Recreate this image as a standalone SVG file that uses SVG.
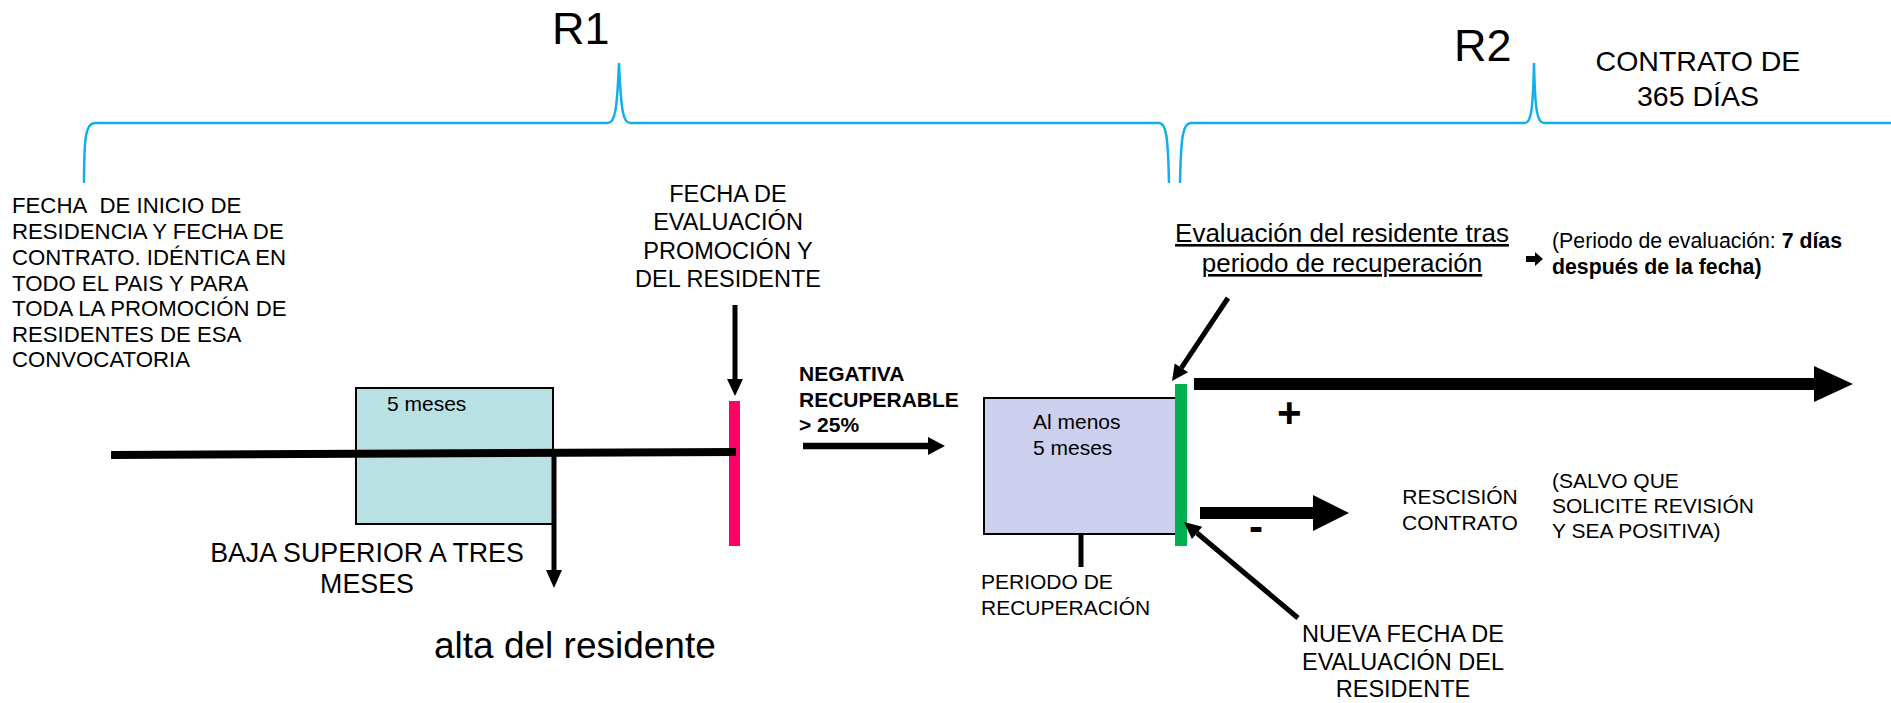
<svg xmlns="http://www.w3.org/2000/svg" width="1891" height="703" viewBox="0 0 1891 703">
<style>
text{font-family:"Liberation Sans",Arial,sans-serif;fill:#000}
.t21{font-size:21px}
.t22{font-size:22.2px}
.t23{font-size:23.5px}
.b{font-weight:bold}
.mid{text-anchor:middle}
.brace{fill:none;stroke:#14AEEB;stroke-width:2.5}
.ln{stroke:#000;fill:none}
.hd{fill:#000;stroke:none}
</style>
<rect width="1891" height="703" fill="#fff"/>
<g id="braces">
<path class="brace" d="M84,183 C84,135 86,123 95,123 L608,123 C615,123 617,110 619,63 C621,110 623,123 630,123 L1159,123 C1166,123 1168,135 1169,183"/>
<path class="brace" d="M1180,183 C1181,135 1183,123 1191,123 L1525,123 C1531,123 1533,110 1534,63 C1535,110 1537,123 1544,123 L1891,123"/>
</g>
<g id="labelR1"><text x="552" y="44" style="font-size:45px">R1</text></g>
<g id="labelR2"><text x="1454" y="61" style="font-size:45px">R2</text></g>
<g id="contrato365"><text class="mid" style="font-size:28.5px" x="1698" y="71">CONTRATO DE<tspan x="1698" y="106">365 DÍAS</tspan></text></g>
<g id="fechaInicio"><text class="t22" x="12" y="213">FECHA&#160; DE INICIO DE<tspan x="12" y="239">RESIDENCIA Y FECHA DE</tspan><tspan x="12" y="265">CONTRATO. IDÉNTICA EN</tspan><tspan x="12" y="291">TODO EL PAIS Y PARA</tspan><tspan x="12" y="316">TODA LA PROMOCIÓN DE</tspan><tspan x="12" y="342">RESIDENTES DE ESA</tspan><tspan x="12" y="367">CONVOCATORIA</tspan></text></g>
<g id="fechaEvaluacion"><text class="t23 mid" x="728" y="202">FECHA DE<tspan x="728" y="230">EVALUACIÓN</tspan><tspan x="728" y="259">PROMOCIÓN Y</tspan><tspan x="728" y="287">DEL RESIDENTE</tspan></text></g>
<g id="box5meses">
<rect x="356" y="388" width="197" height="136" fill="#B9E0E3" stroke="#000" stroke-width="2"/>
<text class="t21" x="387" y="411">5 meses</text>
</g>
<g id="bajaSuperior"><text class="mid" style="font-size:26.8px" x="367" y="562">BAJA SUPERIOR A TRES<tspan x="367" y="593">MESES</tspan></text></g>
<g id="altaResidente"><text style="font-size:37px" x="434" y="658">alta del residente</text></g>
<g id="barraEvaluacion"><rect x="729" y="401" width="11" height="145" fill="#FF0066"/></g>
<g id="negativa"><text class="t21 b" x="799" y="381">NEGATIVA<tspan x="799" y="407">RECUPERABLE</tspan><tspan x="799" y="432">&gt; 25%</tspan></text></g>
<g id="boxRecuperacion">
<rect x="984" y="398" width="192" height="136" fill="#CDCFEE" stroke="#000" stroke-width="2"/>
<text class="t21" x="1033" y="429">Al menos<tspan x="1033" y="455">5 meses</tspan></text>
</g>
<g id="periodoRecuperacion"><text class="t21" x="981" y="589">PERIODO DE<tspan x="981" y="615">RECUPERACIÓN</tspan></text></g>
<g id="barraNueva"><rect x="1175" y="384" width="12" height="162" fill="#00B050"/></g>
<g id="evaluacionTras"><text class="mid" style="font-size:26px;text-decoration:underline" x="1342" y="242">Evaluación del residente tras<tspan x="1342" y="272">periodo de recuperación</tspan></text></g>
<g id="periodoEvaluacion"><text style="font-size:21.3px" x="1552" y="248">(Periodo de evaluación: <tspan class="b">7 días</tspan><tspan class="b" x="1552" y="274">después de la fecha)</tspan></text></g>
<g id="plus"><text class="b" style="font-size:42px" x="1277" y="427">+</text></g>
<g id="minus"><text class="b" style="font-size:42px" x="1249" y="541">-</text></g>
<g id="rescision"><text class="t21 mid" x="1460" y="504">RESCISIÓN<tspan x="1460" y="530">CONTRATO</tspan></text></g>
<g id="salvo"><text class="t21" x="1552" y="488">(SALVO QUE<tspan x="1552" y="513">SOLICITE REVISIÓN</tspan><tspan x="1552" y="538">Y SEA POSITIVA)</tspan></text></g>
<g id="nuevaFecha"><text class="t23 mid" x="1403" y="642">NUEVA FECHA DE<tspan x="1403" y="670">EVALUACIÓN DEL</tspan><tspan x="1403" y="697">RESIDENTE</tspan></text></g>
<g id="connectors">
<line class="ln" x1="111" y1="455" x2="736" y2="452" stroke-width="8"/>
<line class="ln" x1="554" y1="454" x2="554" y2="572" stroke-width="5"/>
<polygon class="hd" points="546,570 562,570 554,588"/>
<line class="ln" x1="735" y1="305" x2="735" y2="381" stroke-width="5"/>
<polygon class="hd" points="727,379 743,379 735,396"/>
<line class="ln" x1="803" y1="446" x2="930" y2="446" stroke-width="6.5"/>
<polygon class="hd" points="928,437 945,446 928,455"/>
<line class="ln" x1="1081" y1="534" x2="1081" y2="567" stroke-width="5"/>
<line class="ln" x1="1228" y1="298" x2="1181.4" y2="367.9" stroke-width="5"/>
<polygon class="hd" points="1188.1,372.3 1174.7,363.5 1172,381"/>
<line class="ln" x1="1298" y1="618" x2="1197" y2="533" stroke-width="5"/>
<polygon class="hd" points="1202.2,526.8 1191.9,539 1184,522"/>
<line class="ln" x1="1194" y1="384" x2="1816" y2="384" stroke-width="12"/>
<polygon class="hd" points="1814,366 1853,384 1814,402"/>
<line class="ln" x1="1200" y1="513" x2="1316" y2="513" stroke-width="12"/>
<polygon class="hd" points="1313,495 1349,513 1313,531"/>
<polygon class="hd" points="1526,256 1535,256 1535,252 1543,259 1535,266 1535,262 1526,262"/>
</g>
</svg>
